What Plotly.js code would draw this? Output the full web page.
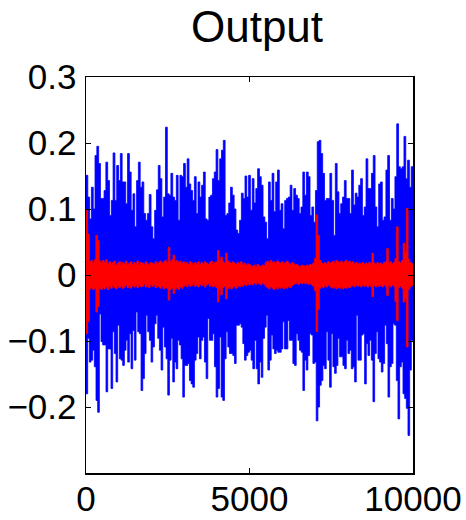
<!DOCTYPE html>
<html>
<head>
<meta charset="utf-8">
<script src="https://cdn.plot.ly/plotly-3.0.1.min.js"></script>
<style>html,body{margin:0;padding:0;background:#fff;}#chart{width:466px;height:520px;}</style>
</head>
<body>
<div id="chart"></div>
<script>
// Blue signal: upper envelope (max per column), left to right over samples 0..10000
var blueUpper = [
0.151,0.118,0.085,0.133,0.100,0.181,0.195,0.169,0.116,0.116,
0.128,0.171,0.143,0.090,0.113,0.185,0.113,0.166,0.143,0.184,
0.141,0.141,0.108,0.184,0.156,0.098,0.123,0.073,0.143,0.171,
0.133,0.141,0.093,0.083,0.093,0.122,0.073,0.055,0.098,0.129,
0.166,0.146,0.088,0.118,0.224,0.123,0.121,0.154,0.118,0.113,
0.151,0.083,0.151,0.149,0.169,0.133,0.176,0.138,0.128,0.113,
0.149,0.093,0.141,0.118,0.136,0.156,0.085,0.083,0.118,0.121,
0.146,0.156,0.190,0.143,0.176,0.189,0.204,0.090,0.093,0.109,
0.133,0.121,0.100,0.068,0.063,0.083,0.124,0.116,0.150,0.118,
0.151,0.098,0.146,0.109,0.131,0.161,0.149,0.136,0.088,0.080,
0.055,0.141,0.113,0.154,0.096,0.141,0.159,0.098,0.108,0.070,
0.113,0.116,0.118,0.136,0.098,0.131,0.121,0.116,0.093,0.103,
0.156,0.121,0.156,0.149,0.090,0.103,0.080,0.128,0.202,0.204,
0.184,0.154,0.113,0.116,0.116,0.154,0.113,0.060,0.169,0.126,
0.093,0.108,0.118,0.143,0.116,0.116,0.093,0.159,0.106,0.124,
0.118,0.136,0.146,0.090,0.103,0.176,0.131,0.131,0.154,0.181,
0.103,0.073,0.138,0.141,0.083,0.088,0.159,0.181,0.083,0.116,
0.100,0.149,0.229,0.164,0.161,0.164,0.210,0.146,0.174,0.133,0.164,0.133
];
// Blue signal: lower envelope (min per column)
var blueLower = [
-0.180,-0.096,-0.132,-0.129,-0.114,-0.139,-0.190,-0.208,-0.059,-0.101,
-0.106,-0.106,-0.177,-0.112,-0.112,-0.172,-0.086,-0.119,-0.162,-0.076,
-0.127,-0.129,-0.137,-0.114,-0.099,-0.132,-0.089,-0.142,-0.084,-0.129,
-0.056,-0.086,-0.089,-0.175,-0.157,-0.119,-0.061,-0.086,-0.099,-0.132,
-0.109,-0.074,-0.061,-0.096,-0.114,-0.144,-0.079,-0.109,-0.127,-0.182,
-0.129,-0.096,-0.162,-0.132,-0.142,-0.099,-0.106,-0.127,-0.185,-0.137,
-0.137,-0.134,-0.160,-0.165,-0.170,-0.129,-0.119,-0.094,-0.127,-0.099,
-0.094,-0.132,-0.157,-0.066,-0.099,-0.099,-0.089,-0.139,-0.185,-0.172,
-0.094,-0.185,-0.190,-0.127,-0.086,-0.109,-0.119,-0.119,-0.122,-0.134,
-0.076,-0.076,-0.074,-0.079,-0.104,-0.129,-0.122,-0.117,
-0.114,-0.129,-0.142,-0.099,-0.142,-0.165,-0.132,-0.155,-0.096,-0.079,
-0.061,-0.144,-0.129,-0.091,-0.112,-0.119,-0.114,-0.117,-0.117,-0.112,
-0.071,-0.112,-0.112,-0.069,-0.099,-0.099,-0.134,-0.137,-0.089,-0.099,
-0.114,-0.117,-0.175,-0.129,-0.144,-0.122,-0.089,-0.091,-0.134,-0.132,
-0.221,-0.200,-0.167,-0.160,-0.137,-0.142,-0.086,-0.129,-0.170,-0.089,
-0.139,-0.149,-0.137,-0.096,-0.124,-0.124,-0.137,-0.142,-0.099,-0.119,
-0.114,-0.142,-0.139,-0.162,-0.061,-0.129,-0.129,-0.091,-0.089,-0.165,
-0.104,-0.122,-0.099,-0.129,-0.192,-0.119,-0.086,-0.127,-0.132,-0.147,
-0.134,-0.076,-0.104,-0.185,-0.139,-0.134,-0.074,-0.076,-0.160,-0.218,
-0.139,-0.132,-0.180,-0.187,-0.202,-0.243,-0.144,-0.099,-0.084
];
// Red signal: upper envelope
var redUpper = [
0.098,0.062,0.020,0.022,0.019,0.023,0.060,0.052,0.021,0.018,
0.022,0.019,0.023,0.017,0.020,0.016,0.019,0.021,0.015,0.018,
0.020,0.016,0.019,0.017,0.021,0.015,0.018,0.020,0.016,0.019,
0.017,0.021,0.015,0.019,0.018,0.016,0.020,0.017,0.015,0.019,
0.018,0.016,0.020,0.017,0.019,0.021,0.018,0.020,0.022,0.019,
0.042,0.021,0.023,0.030,0.020,0.022,0.019,0.021,0.018,0.020,
0.017,0.019,0.016,0.020,0.018,0.015,0.019,0.017,0.020,0.016,
0.019,0.017,0.020,0.018,0.016,0.019,0.021,0.017,0.019,0.020,
0.037,0.022,0.027,0.020,0.018,0.033,0.021,0.019,0.017,0.020,
0.018,0.016,0.019,0.017,0.020,0.016,0.018,0.015,0.017,0.016,
0.014,0.013,0.015,0.012,0.016,0.014,0.013,0.015,0.014,0.019,
0.021,0.018,0.022,0.019,0.020,0.017,0.021,0.019,0.018,0.020,
0.017,0.019,0.021,0.018,0.016,0.019,0.017,0.015,0.016,0.014,
0.013,0.015,0.014,0.013,0.015,0.014,0.016,0.015,0.018,0.025,
0.091,0.060,0.022,0.018,0.016,0.019,0.017,0.020,0.018,0.019,
0.021,0.018,0.022,0.020,0.019,0.021,0.018,0.020,0.022,0.019,
0.021,0.018,0.020,0.017,0.019,0.016,0.018,0.017,0.019,0.016,
0.018,0.016,0.019,0.017,0.033,0.018,0.016,0.019,0.017,0.018,
0.016,0.019,0.020,0.040,0.018,0.020,0.017,0.019,0.025,0.073,
0.021,0.018,0.022,0.048,0.035,0.101,0.024,0.019,0.017,0.016
];
// Red signal: lower envelope
var redLower = [
-0.089,-0.070,-0.021,-0.019,-0.022,-0.020,-0.056,-0.048,-0.020,-0.022,
-0.019,-0.021,-0.018,-0.022,-0.017,-0.020,-0.016,-0.019,-0.021,-0.017,
-0.019,-0.016,-0.020,-0.018,-0.015,-0.019,-0.017,-0.020,-0.016,-0.018,
-0.016,-0.019,-0.015,-0.018,-0.017,-0.014,-0.018,-0.016,-0.019,-0.015,
-0.017,-0.015,-0.019,-0.016,-0.018,-0.020,-0.017,-0.021,-0.019,-0.020,
-0.038,-0.022,-0.020,-0.028,-0.021,-0.019,-0.022,-0.018,-0.020,-0.017,
-0.015,-0.018,-0.014,-0.017,-0.016,-0.013,-0.017,-0.015,-0.018,-0.014,
-0.016,-0.014,-0.018,-0.015,-0.013,-0.017,-0.015,-0.018,-0.016,-0.019,
-0.041,-0.021,-0.030,-0.019,-0.017,-0.036,-0.020,-0.018,-0.021,-0.019,
-0.017,-0.020,-0.016,-0.018,-0.015,-0.017,-0.014,-0.016,-0.013,-0.015,
-0.013,-0.015,-0.012,-0.014,-0.011,-0.013,-0.015,-0.012,-0.014,-0.017,
-0.019,-0.021,-0.018,-0.020,-0.022,-0.019,-0.021,-0.018,-0.020,-0.019,
-0.021,-0.018,-0.020,-0.017,-0.019,-0.016,-0.014,-0.013,-0.012,-0.014,
-0.012,-0.013,-0.011,-0.013,-0.012,-0.014,-0.013,-0.015,-0.017,-0.024,
-0.086,-0.052,-0.020,-0.017,-0.019,-0.016,-0.018,-0.015,-0.017,-0.019,
-0.020,-0.018,-0.021,-0.019,-0.020,-0.018,-0.021,-0.019,-0.020,-0.018,
-0.019,-0.017,-0.016,-0.018,-0.015,-0.017,-0.016,-0.018,-0.015,-0.017,
-0.016,-0.018,-0.015,-0.017,-0.033,-0.016,-0.018,-0.015,-0.017,-0.016,
-0.018,-0.015,-0.017,-0.031,-0.016,-0.018,-0.015,-0.017,-0.040,-0.069,
-0.019,-0.017,-0.020,-0.041,-0.035,-0.109,-0.022,-0.018,-0.016,-0.015
];
var xTickVals = [0, 5000, 10000];
var xTickText = ['0', '5000', '10000'];
var yTickVals = [-0.2, -0.1, 0, 0.1, 0.2, 0.3];
var yTickText = ['\u22120.2', '\u22120.1', '0', '0.1', '0.2', '0.3'];
var nSamples = 10000;

function sampleAxis(n) {
  var xs = [];
  for (var i = 0; i < n; i++) xs.push(i * nSamples / (n - 1));
  return xs;
}
function band(vals, color) {
  return {
    x: sampleAxis(vals.length), y: vals, type: 'scatter', mode: 'lines',
    line: {color: color, width: 0.8, shape: 'hv'},
    fill: 'tozeroy', fillcolor: color, hoverinfo: 'skip', showlegend: false
  };
}
var data = [
  band(blueUpper, '#0000ff'), band(blueLower, '#0000ff'),
  band(redUpper, '#ff0000'), band(redLower, '#ff0000')
];
var fontFam = 'Liberation Sans, Arial, Helvetica, sans-serif';
var axisCommon = {
  showgrid: false, zeroline: false, showline: true, mirror: 'ticks',
  linecolor: '#000', linewidth: 1.5, ticks: 'inside', ticklen: 5,
  tickwidth: 1, tickcolor: '#000', tickmode: 'array',
  tickfont: {family: fontFam, size: 35, color: '#000'}
};
var layout = {
  width: 466, height: 520,
  margin: {l: 86, r: 53, t: 77, b: 47, pad: 0},
  paper_bgcolor: '#fff', plot_bgcolor: '#fff',
  title: {text: 'Output', font: {family: fontFam, size: 44, color: '#000'},
          x: 0.523, xref: 'paper', xanchor: 'center', y: 1 - 27/520, yref: 'container', yanchor: 'middle'},
  xaxis: Object.assign({}, axisCommon, {range: [0, 10000], tickvals: xTickVals, ticktext: xTickText, ticklabelstandoff: -6}),
  yaxis: Object.assign({}, axisCommon, {range: [-0.3, 0.3], tickvals: yTickVals, ticktext: yTickText, ticklabelstandoff: 1})
};
Plotly.newPlot('chart', data, layout, {staticPlot: true, displayModeBar: false});
</script>
</body>
</html>
